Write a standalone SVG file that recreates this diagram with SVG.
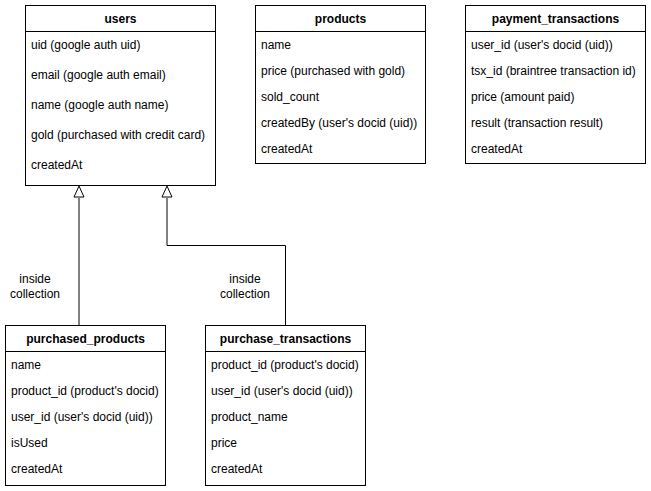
<svg xmlns="http://www.w3.org/2000/svg" width="651" height="491" viewBox="0 0 651 491">
<style>
.box{fill:#ffffff;stroke:#000000;stroke-width:1}
.hd{font-family:"Liberation Sans",Arial,sans-serif;font-size:12px;font-weight:bold;fill:#000000;text-anchor:middle}
.f{font-family:"Liberation Sans",Arial,sans-serif;font-size:12px;fill:#000000}
.lbl{font-family:"Liberation Sans",Arial,sans-serif;font-size:12px;fill:#000000;text-anchor:middle}
.ln{fill:none;stroke:#000000;stroke-width:1}
.tri{fill:#ffffff;stroke:#000000;stroke-width:1}
</style>
<rect width="651" height="491" fill="#ffffff"/>
<g id="connectors">
<path class="ln" d="M79 198 V325"/>
<polygon class="tri" points="79,186 74,197 84,197"/>
<path class="ln" d="M167 198 V245.5 H285.5 V325"/>
<polygon class="tri" points="167,186 162,197 172,197"/>
<text class="lbl" x="35" y="283">inside</text>
<text class="lbl" x="35" y="298">collection</text>
<text class="lbl" x="245" y="283">inside</text>
<text class="lbl" x="245" y="298">collection</text>
</g>
<g id="users">
<rect class="box" x="25.5" y="5.5" width="190" height="180"/>
<line class="ln" x1="25.5" y1="31.5" x2="215.5" y2="31.5"/>
<text class="hd" x="120.5" y="23">users</text>
<text class="f" x="31" y="49">uid (google auth uid)</text>
<text class="f" x="31" y="79">email (google auth email)</text>
<text class="f" x="31" y="109">name (google auth name)</text>
<text class="f" x="31" y="139">gold (purchased with credit card)</text>
<text class="f" x="31" y="169">createdAt</text>
</g>
<g id="products">
<rect class="box" x="255.5" y="5.5" width="170" height="158"/>
<line class="ln" x1="255.5" y1="31.5" x2="425.5" y2="31.5"/>
<text class="hd" x="340.5" y="23">products</text>
<text class="f" x="261" y="49">name</text>
<text class="f" x="261" y="75">price (purchased with gold)</text>
<text class="f" x="261" y="101">sold_count</text>
<text class="f" x="261" y="127">createdBy (user's docid (uid))</text>
<text class="f" x="261" y="153">createdAt</text>
</g>
<g id="payment_transactions">
<rect class="box" x="465.5" y="5.5" width="180" height="158"/>
<line class="ln" x1="465.5" y1="31.5" x2="645.5" y2="31.5"/>
<text class="hd" x="555.5" y="23">payment_transactions</text>
<text class="f" x="471" y="49">user_id (user's docid (uid))</text>
<text class="f" x="471" y="75">tsx_id (braintree transaction id)</text>
<text class="f" x="471" y="101">price (amount paid)</text>
<text class="f" x="471" y="127">result (transaction result)</text>
<text class="f" x="471" y="153">createdAt</text>
</g>
<g id="purchased_products">
<rect class="box" x="5.5" y="325.5" width="160" height="160"/>
<line class="ln" x1="5.5" y1="351.5" x2="165.5" y2="351.5"/>
<text class="hd" x="85.5" y="343">purchased_products</text>
<text class="f" x="11" y="369">name</text>
<text class="f" x="11" y="395">product_id (product's docid)</text>
<text class="f" x="11" y="421">user_id (user's docid (uid))</text>
<text class="f" x="11" y="447">isUsed</text>
<text class="f" x="11" y="473">createdAt</text>
</g>
<g id="purchase_transactions">
<rect class="box" x="205.5" y="325.5" width="160" height="160"/>
<line class="ln" x1="205.5" y1="351.5" x2="365.5" y2="351.5"/>
<text class="hd" x="285.5" y="343">purchase_transactions</text>
<text class="f" x="211" y="369">product_id (product's docid)</text>
<text class="f" x="211" y="395">user_id (user's docid (uid))</text>
<text class="f" x="211" y="421">product_name</text>
<text class="f" x="211" y="447">price</text>
<text class="f" x="211" y="473">createdAt</text>
</g>
</svg>
